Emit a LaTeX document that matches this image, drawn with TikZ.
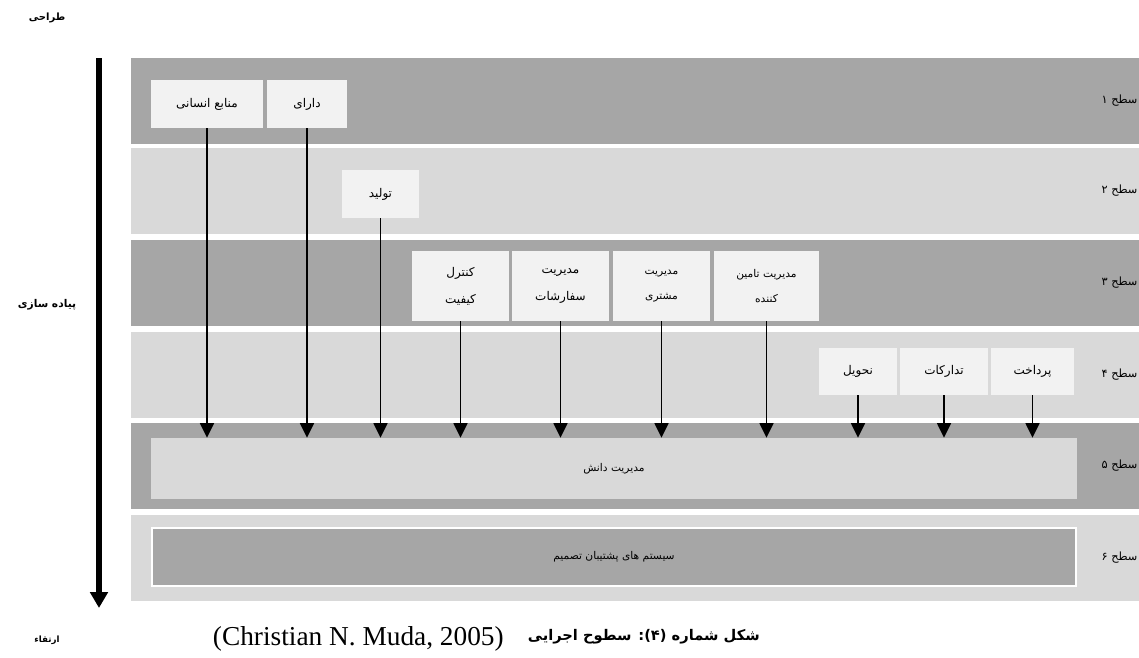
\documentclass[tikz,border=0pt]{standalone}
\usepackage{fontspec}
\setmainfont{Liberation Serif}
\newfontfamily\arabicfont[Script=Arabic]{DejaVu Sans}
\TeXXeTstate=1
\usepackage{tikz}
\usetikzlibrary{arrows.meta, positioning}
\definecolor{bandDark}{RGB}{166,166,166}
\definecolor{bandLight}{RGB}{217,217,217}
\definecolor{unitFill}{RGB}{242,242,242}
\newcommand{\fatx}[1]{{\arabicfont\beginR #1\endR}}
\tikzset{
  unit/.style={fill=unitFill, align=center, inner sep=1pt,
               font=\fontsize{9}{20}\selectfont},
  lvl/.style={anchor=east, inner sep=1pt, font=\fontsize{8.5}{10}\selectfont},
  side/.style={inner sep=1pt, font=\bfseries\fontsize{7.5}{9}\selectfont},
  flow/.style={-{Triangle[width=10.5pt, length=11pt]}, line width=1.2pt},
  axisflow/.style={-{Triangle[width=13pt, length=12pt]}, line width=4.5pt},
}

\begin{document}
\begin{tikzpicture}[x=0.75pt, y=-0.75pt]
  \useasboundingbox (0,0) rectangle (1139,657);

  % ----- level bands -----
  \foreach \top/\col/\num [count=\i] in {58/bandDark/۱, 148/bandLight/۲,
      240/bandDark/۳, 332/bandLight/۴, 423/bandDark/۵, 515/bandLight/۶} {
    \fill[\col] (131,\top) rectangle (1139,\top+86);
    \node[lvl] (lvl\i) at (1139,\top+43) {\fatx{سطح \num}};
  }

  % ----- level 5 and 6 -----
  \node[fill=bandLight, minimum width=694.5pt, minimum height=45.75pt,
        font=\fontsize{8}{10}\selectfont] (km) at (614,468.5) {\fatx{مدیریت دانش}};
  \node[fill=bandDark, draw=white, line width=1.5pt, minimum width=693pt,
        minimum height=44pt, font=\fontsize{8}{10}\selectfont] (dss) at (614,557)
        {\fatx{سیستم های پشتیبان تصمیم}};

  % ----- units, levels 1 to 4 -----
  \node[unit, minimum width=84pt, minimum height=36pt] (hr) at (207,104)
        {\fatx{منابع انسانی}};
  \node[unit, minimum width=60pt, minimum height=36pt] (asset) at (307,104)
        {\fatx{دارای}};
  \node[unit, minimum width=57.75pt, minimum height=36pt] (prod) at (380.5,194)
        {\fatx{تولید}};
  \node[unit, minimum width=72.75pt, minimum height=52.5pt] (qc) at (460.5,286)
        {\fatx{کنترل}\\\fatx{کیفیت}};
  \node[unit, minimum width=72.75pt, minimum height=52.5pt] (order) at (560.5,286)
        {\fatx{مدیریت}\\\fatx{سفارشات}};
  \node[unit, minimum width=72.75pt, minimum height=52.5pt,
        font=\fontsize{8}{19}\selectfont] (cust) at (661.5,286)
        {\fatx{مدیریت}\\\fatx{مشتری}};
  \node[unit, minimum width=78.75pt, minimum height=52.5pt,
        font=\fontsize{8}{19}\selectfont] (supp) at (766.5,286)
        {\fatx{مدیریت تامین}\\\fatx{کننده}};
  \node[unit, minimum width=58.5pt, minimum height=35.25pt] (deliv) at (858,371.5)
        {\fatx{نحویل}};
  \node[unit, minimum width=66pt, minimum height=35.25pt] (logis) at (944,371.5)
        {\fatx{تدارکات}};
  \node[unit, minimum width=62.25pt, minimum height=35.25pt] (pay) at (1032.5,371.5)
        {\fatx{پرداخت}};

  % ----- arrows into knowledge management -----
  \foreach \u in {hr, asset, prod, qc, order, cust, supp, deliv, logis, pay}
    \draw[flow] (\u) -- (\u |- km.north);

  % ----- side axis -----
  \coordinate (axtop) at (99,58);
  \coordinate (axbot) at (99,608);
  \draw[axisflow] (axtop) -- (axbot);
  \node[side] (design) at (47,18) {\fatx{طراحی}};
  \node[side, font=\bfseries\fontsize{8}{10}\selectfont] (impl) at (47,305)
        {\fatx{پیاده سازی}};
  \node[side, font=\bfseries\fontsize{6.5}{8}\selectfont] (upgrade) at (47,640)
        {\fatx{ارتقاء}};

  % ----- caption -----
  \node[anchor=east, inner sep=0pt, font=\bfseries\fontsize{11}{13}\selectfont]
        (capfa) at (760,637) {\fatx{شکل شماره (۴): سطوح اجرایی}};
  \node[anchor=east, inner sep=0pt, font=\fontsize{20.5}{22}\selectfont]
        (capref) at (504,639) {(Christian N. Muda, 2005)};
\end{tikzpicture}
\end{document}
